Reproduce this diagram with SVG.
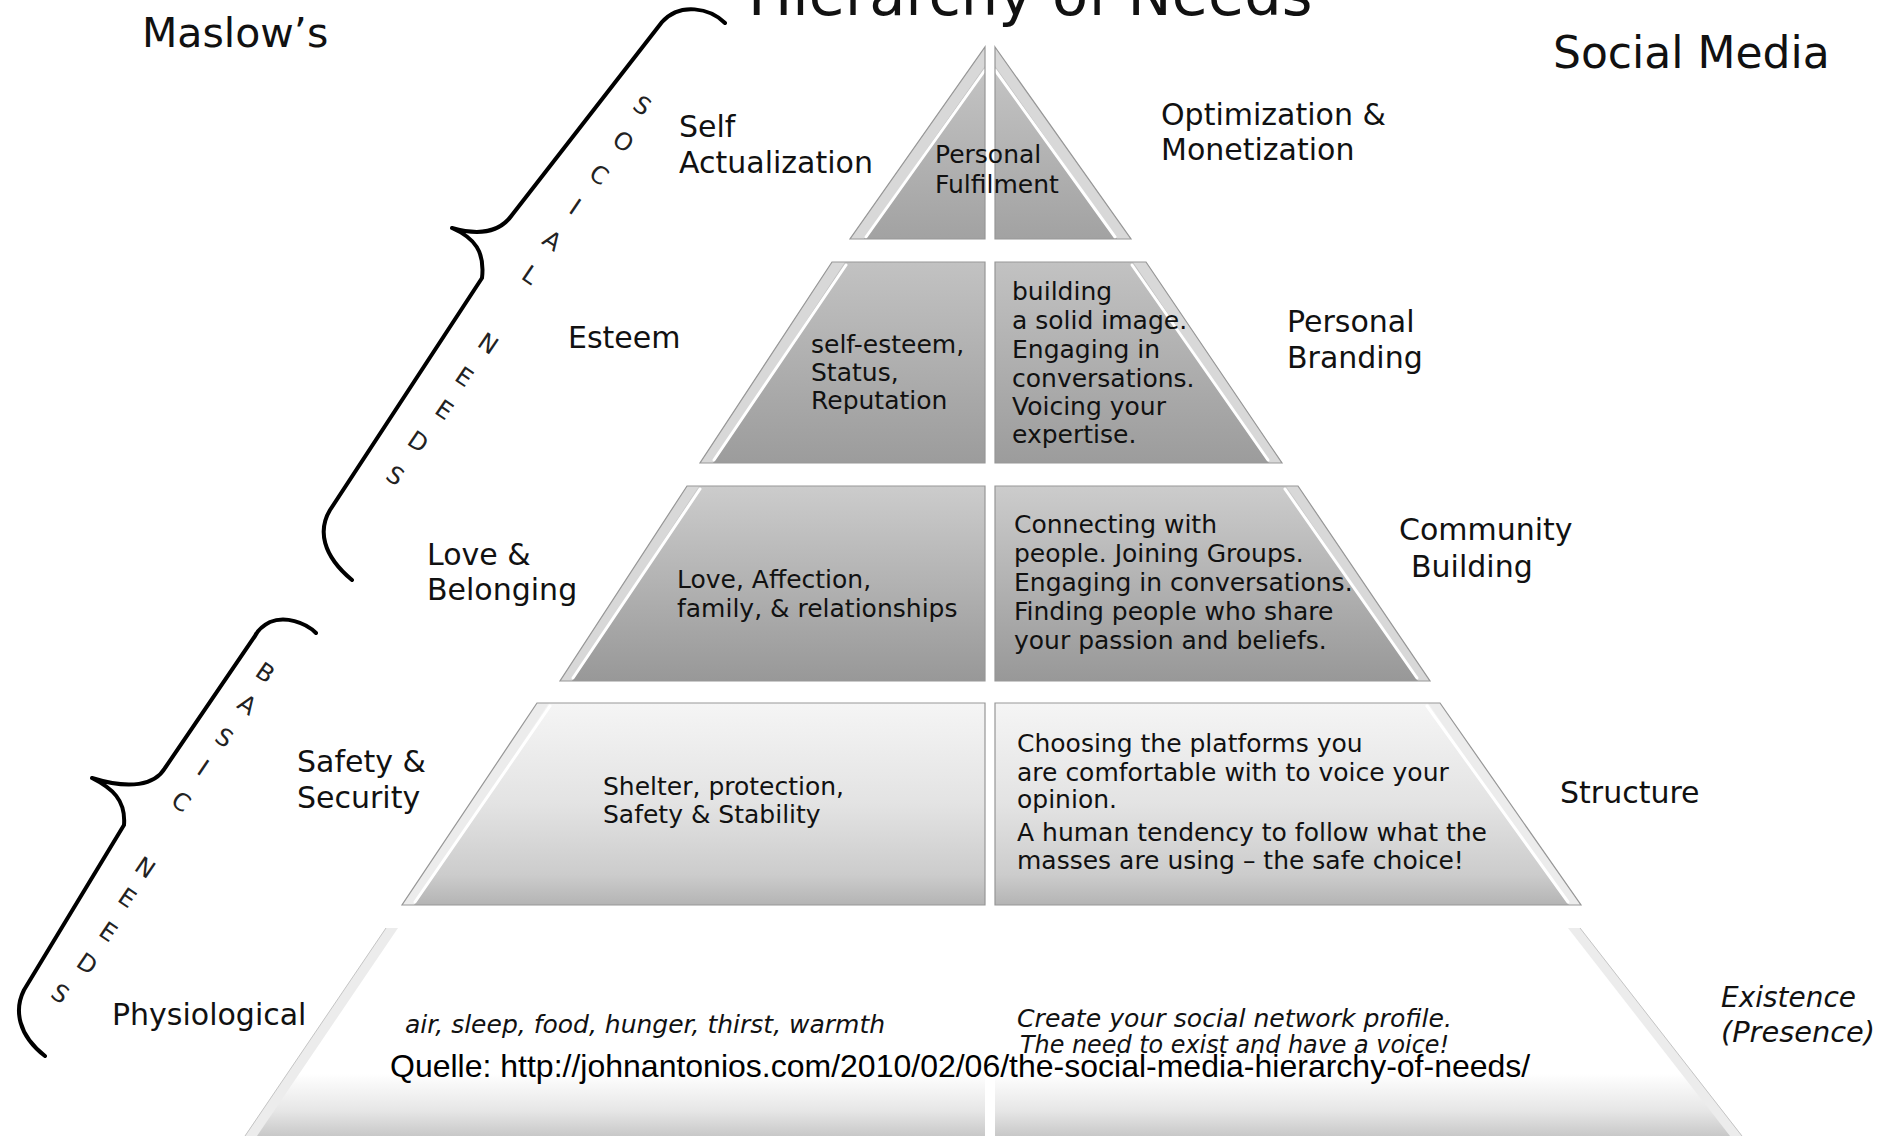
<svg xmlns="http://www.w3.org/2000/svg" width="1890" height="1136" viewBox="0 0 1890 1136">
<defs>
<linearGradient id="g1" x1="0" y1="0" x2="0" y2="1"><stop offset="0" stop-color="#c8c8c8"/><stop offset="1" stop-color="#a2a2a2"/></linearGradient>
<linearGradient id="g2" x1="0" y1="0" x2="0" y2="1"><stop offset="0" stop-color="#c2c2c2"/><stop offset="1" stop-color="#9c9c9c"/></linearGradient>
<linearGradient id="g3" x1="0" y1="0" x2="0" y2="1"><stop offset="0" stop-color="#cccccc"/><stop offset="1" stop-color="#989898"/></linearGradient>
<linearGradient id="g4" x1="0" y1="0" x2="0" y2="1"><stop offset="0" stop-color="#f5f5f5"/><stop offset="0.5" stop-color="#e3e3e3"/><stop offset="0.85" stop-color="#cccccc"/><stop offset="1" stop-color="#b4b4b4"/></linearGradient>
<linearGradient id="g5" x1="0" y1="0" x2="0" y2="1"><stop offset="0" stop-color="#ffffff"/><stop offset="0.7" stop-color="#ffffff"/><stop offset="0.88" stop-color="#e6e6e6"/><stop offset="1" stop-color="#c8c8c8"/></linearGradient>
</defs>
<style>
.hw{font-family:"DejaVu Sans","Open Sans",sans-serif;fill:#111}
.lbl{font-size:30px}
.inn{font-size:25px}
.sm{font-size:24px}
.ex{font-size:28px}
.it{font-style:italic}
.ttl{font-size:59px}
.ltr{font-family:"DejaVu Sans","Open Sans",sans-serif;font-size:24px;text-anchor:middle;dominant-baseline:central;fill:#222}
.src{font-family:"Liberation Sans",Arial,sans-serif;font-size:32px;fill:#000}
.out{fill:none;stroke:#979797;stroke-width:1.2}
.out5{fill:none;stroke:#c4c4c4;stroke-width:1}
.bev{fill:#d8d8d8}
.bevl{fill:#ececec}
.hl{fill:none;stroke:#ffffff;stroke-width:3;stroke-linecap:round}
.brace{fill:none;stroke:#000;stroke-width:4;stroke-linecap:round;stroke-linejoin:round}
</style>
<rect x="0" y="0" width="1890" height="1136" fill="#ffffff"/>

<g id="tier5">
<polygon points="386,928 985,928 985,1136 245,1136" fill="url(#g5)"/>
<polygon points="386,928 398,928 257,1136 245,1136" class="bevl"/>
<line x1="386" y1="928" x2="245" y2="1136" class="out5"/>
<polygon points="995,928 1580,928 1742,1136 995,1136" fill="url(#g5)"/>
<polygon points="1580,928 1568,928 1730,1136 1742,1136" class="bevl"/>
<line x1="1580" y1="928" x2="1742" y2="1136" class="out5"/>
<text class="hw inn it" x="405" y="1033">air, sleep, food, hunger, thirst, warmth</text>
<text class="hw sm it" x="1017" y="1027" textLength="435" lengthAdjust="spacingAndGlyphs">Create your social network profile.</text>
<text class="hw sm it" x="1020" y="1053" textLength="429" lengthAdjust="spacingAndGlyphs">The need to exist and have a voice!</text>
</g>

<g id="tier4">
<polygon points="537,703 985,703 985,905 402,905" fill="url(#g4)"/>
<polygon points="537,703 549,703 414,905 402,905" class="bevl"/>
<line x1="550" y1="706" x2="415" y2="902" class="hl"/>
<polygon points="537,703 985,703 985,905 402,905" class="out"/>
<polygon points="995,703 1440,703 1581,905 995,905" fill="url(#g4)"/>
<polygon points="1440,703 1428,703 1569,905 1581,905" class="bevl"/>
<line x1="1427" y1="706" x2="1568" y2="902" class="hl"/>
<polygon points="995,703 1440,703 1581,905 995,905" class="out"/>
<text class="hw inn" x="603" y="795">Shelter, protection,</text>
<text class="hw inn" x="603" y="823">Safety &amp; Stability</text>
<text class="hw inn" x="1017" y="752">Choosing the platforms you</text>
<text class="hw inn" x="1017" y="781">are comfortable with to voice your</text>
<text class="hw inn" x="1017" y="808">opinion.</text>
<text class="hw inn" x="1017" y="841">A human tendency to follow what the</text>
<text class="hw inn" x="1017" y="869">masses are using – the safe choice!</text>
</g>

<g id="tier3">
<polygon points="687,486 985,486 985,681 560,681" fill="url(#g3)"/>
<polygon points="687,486 699,486 572,681 560,681" class="bev"/>
<line x1="700" y1="489" x2="573" y2="678" class="hl"/>
<polygon points="687,486 985,486 985,681 560,681" class="out"/>
<polygon points="995,486 1298,486 1430,681 995,681" fill="url(#g3)"/>
<polygon points="1298,486 1286,486 1418,681 1430,681" class="bev"/>
<line x1="1285" y1="489" x2="1417" y2="678" class="hl"/>
<polygon points="995,486 1298,486 1430,681 995,681" class="out"/>
<text class="hw inn" x="677" y="588">Love, Affection,</text>
<text class="hw inn" x="677" y="617">family, &amp; relationships</text>
<text class="hw inn" x="1014" y="533">Connecting with</text>
<text class="hw inn" x="1014" y="562">people. Joining Groups.</text>
<text class="hw inn" x="1014" y="591">Engaging in conversations.</text>
<text class="hw inn" x="1014" y="620">Finding people who share</text>
<text class="hw inn" x="1014" y="649">your passion and beliefs.</text>
</g>

<g id="tier2">
<polygon points="832,262 985,262 985,463 700,463" fill="url(#g2)"/>
<polygon points="832,262 845,262 713,463 700,463" class="bev"/>
<line x1="846" y1="265" x2="714" y2="460" class="hl"/>
<polygon points="832,262 985,262 985,463 700,463" class="out"/>
<polygon points="995,262 1146,262 1282,463 995,463" fill="url(#g2)"/>
<polygon points="1146,262 1133,262 1269,463 1282,463" class="bev"/>
<line x1="1132" y1="265" x2="1268" y2="460" class="hl"/>
<polygon points="995,262 1146,262 1282,463 995,463" class="out"/>
<text class="hw inn" x="811" y="353">self-esteem,</text>
<text class="hw inn" x="811" y="381">Status,</text>
<text class="hw inn" x="811" y="409">Reputation</text>
<text class="hw inn" x="1012" y="300">building</text>
<text class="hw inn" x="1012" y="329">a solid image.</text>
<text class="hw inn" x="1012" y="358">Engaging in</text>
<text class="hw inn" x="1012" y="387">conversations.</text>
<text class="hw inn" x="1012" y="415">Voicing your</text>
<text class="hw inn" x="1012" y="443">expertise.</text>
</g>

<g id="tier1">
<polygon points="985,47 985,239 850,239" fill="url(#g1)"/>
<polygon points="985,47 850,239 864,239 985,66" class="bev"/>
<line x1="985" y1="70" x2="866" y2="237" class="hl"/>
<polygon points="985,47 985,239 850,239" class="out"/>
<polygon points="995,47 1131,239 995,239" fill="url(#g1)"/>
<polygon points="995,47 1131,239 1117,239 995,66" class="bev"/>
<line x1="995" y1="70" x2="1115" y2="237" class="hl"/>
<polygon points="995,47 1131,239 995,239" class="out"/>
<text class="hw inn" x="935" y="163">Personal</text>
<text class="hw inn" x="935" y="193">Fulfilment</text>
</g>

<g id="titles">
<text class="hw" font-size="41" x="142" y="47">Maslow’s</text>
<text class="hw ttl" x="748" y="15">Hierarchy of Needs</text>
<text class="hw" font-size="44" x="1553" y="68">Social Media</text>
</g>

<g id="maslow-labels">
<text class="hw lbl" x="679" y="137">Self</text>
<text class="hw lbl" x="679" y="173">Actualization</text>
<text class="hw lbl" x="568" y="348">Esteem</text>
<text class="hw lbl" x="427" y="565">Love &amp;</text>
<text class="hw lbl" x="427" y="600">Belonging</text>
<text class="hw lbl" x="297" y="772">Safety &amp;</text>
<text class="hw lbl" x="297" y="808">Security</text>
<text class="hw lbl" x="112" y="1025">Physiological</text>
</g>

<g id="social-labels">
<text class="hw lbl" x="1161" y="125">Optimization &amp;</text>
<text class="hw lbl" x="1161" y="160">Monetization</text>
<text class="hw lbl" x="1287" y="332">Personal</text>
<text class="hw lbl" x="1287" y="368">Branding</text>
<text class="hw lbl" x="1399" y="540">Community</text>
<text class="hw lbl" x="1411" y="577">Building</text>
<text class="hw lbl" x="1560" y="803">Structure</text>
<text class="hw ex it" x="1721" y="1007" textLength="135" lengthAdjust="spacingAndGlyphs">Existence</text>
<text class="hw ex it" x="1721" y="1042" textLength="154" lengthAdjust="spacingAndGlyphs">(Presence)</text>
</g>

<g id="braces">
<path class="brace" d="M725,23 C710,8 680,2 662,22 L512,215 C500,232 480,236 452,228 C475,238 485,252 482,278 L330,510 C318,530 322,555 352,580"/>
<path class="brace" d="M316,633 C305,622 285,616 270,622 C262,626 258,630 255,636 L165,768 C155,785 130,790 92,778 C112,788 126,800 124,825 L24,990 C14,1010 18,1035 45,1056"/>
</g>

<g id="social-needs-letters">
<text class="ltr" x="642" y="106" transform="rotate(34 642 106)">S</text>
<text class="ltr" x="623" y="142" transform="rotate(34 623 142)">O</text>
<text class="ltr" x="599" y="175" transform="rotate(34 599 175)">C</text>
<text class="ltr" x="575" y="207" transform="rotate(34 575 207)">I</text>
<text class="ltr" x="552" y="241" transform="rotate(34 552 241)">A</text>
<text class="ltr" x="530" y="275" transform="rotate(34 530 275)">L</text>
<text class="ltr" x="488" y="344" transform="rotate(34 488 344)">N</text>
<text class="ltr" x="464" y="377" transform="rotate(34 464 377)">E</text>
<text class="ltr" x="444" y="410" transform="rotate(34 444 410)">E</text>
<text class="ltr" x="418" y="442" transform="rotate(34 418 442)">D</text>
<text class="ltr" x="395" y="476" transform="rotate(34 395 476)">S</text>
</g>

<g id="basic-needs-letters">
<text class="ltr" x="265" y="673" transform="rotate(34 265 673)">B</text>
<text class="ltr" x="247" y="705" transform="rotate(34 247 705)">A</text>
<text class="ltr" x="224" y="738" transform="rotate(34 224 738)">S</text>
<text class="ltr" x="203" y="768" transform="rotate(34 203 768)">I</text>
<text class="ltr" x="181" y="802" transform="rotate(34 181 802)">C</text>
<text class="ltr" x="145" y="868" transform="rotate(34 145 868)">N</text>
<text class="ltr" x="127" y="898" transform="rotate(34 127 898)">E</text>
<text class="ltr" x="108" y="932" transform="rotate(34 108 932)">E</text>
<text class="ltr" x="87" y="964" transform="rotate(34 87 964)">D</text>
<text class="ltr" x="60" y="994" transform="rotate(34 60 994)">S</text>
</g>

<g id="source">
<text class="src" x="390" y="1077">Quelle: http://johnantonios.com/2010/02/06/the-social-media-hierarchy-of-needs/</text>
</g>
</svg>
